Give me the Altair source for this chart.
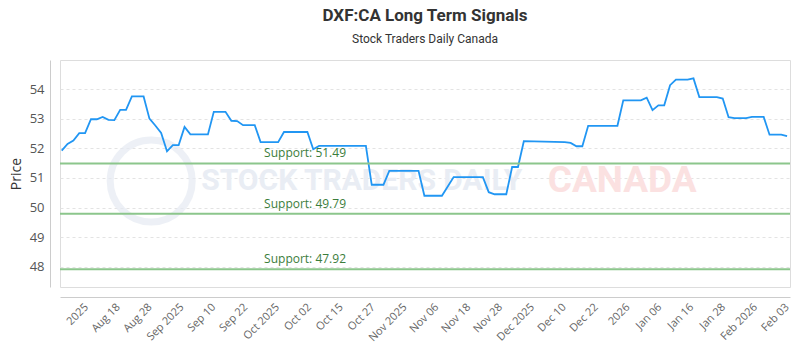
import json
import altair as alt
import pandas as pd

title_text = "DXF:CA Long Term Signals"
subtitle_text = "Stock Traders Daily Canada"

# trading-day index of each turning point of the price line, and its price
day_idx = [0, 1, 2, 3, 4, 5, 6, 7, 8, 9, 10, 11, 12, 14, 15, 16, 17, 18, 19, 20,
           21, 22, 25, 26, 28, 29, 30, 31, 33, 34, 37, 38, 42, 43, 44, 52, 53, 55,
           56, 61, 62, 65, 67, 72, 73, 74, 76, 77, 78, 79, 86, 87, 88, 89, 90, 95,
           96, 99, 100, 101, 102, 103, 104, 105, 107, 108, 109, 112, 113, 114, 115,
           117, 118, 120, 121, 123, 124]
price = [51.92, 52.15, 52.26, 52.51, 52.51, 52.98, 52.98, 53.06, 52.96, 52.95,
         53.30, 53.30, 53.75, 53.75, 53.00, 52.77, 52.52, 51.90, 52.11, 52.11,
         52.72, 52.47, 52.47, 53.23, 53.23, 52.93, 52.92, 52.78, 52.78, 52.21,
         52.21, 52.55, 52.55, 51.97, 52.08, 52.08, 50.77, 50.77, 51.24, 51.24,
         50.40, 50.40, 51.03, 51.03, 50.52, 50.45, 50.45, 51.37, 51.37, 52.24,
         52.21, 52.18, 52.07, 52.07, 52.76, 52.76, 53.62, 53.62, 53.71, 53.29,
         53.45, 53.45, 54.13, 54.32, 54.32, 54.36, 53.73, 53.73, 53.68, 53.05,
         53.02, 53.02, 53.06, 53.06, 52.46, 52.46, 52.41]

support_levels = [51.49, 49.79, 47.92]
support_label_day = 34.6

tick_labels = ["2025", "Aug 18", "Aug 28", "Sep 2025", "Sep 10", "Sep 22",
               "Oct 2025", "Oct 02", "Oct 15", "Oct 27", "Nov 2025", "Nov 06",
               "Nov 18", "Nov 28", "Dec 2025", "Dec 10", "Dec 22", "2026",
               "Jan 06", "Jan 16", "Jan 28", "Feb 2026", "Feb 03"]
y_ticks = [48, 49, 50, 51, 52, 53, 54]

wm_text = ["STOCK TRADERS DAILY", "CANADA"]
wm_day = [51.3, 95.8]
wm_price = [50.9, 50.9]
wm_color = ["#e9edf4", "#fbe1e1"]
wm_size = [30, 37]

# ---------------------------------------------------------------
df = pd.DataFrame({"day": day_idx, "price": price})
sup = pd.DataFrame({
    "level": support_levels,
    "label": [f"Support: {v:.2f}" for v in support_levels],
    "at": [support_label_day] * len(support_levels),
})
wm = pd.DataFrame({"text": wm_text, "day": wm_day, "price": wm_price,
                   "color": wm_color, "size": wm_size})
logo = pd.DataFrame({"day": [15.3], "price": [50.9]})

tick_start, tick_step = 3.47, 5.446
tick_vals = [tick_start + tick_step * k for k in range(len(tick_labels))]
label_expr = f"{json.dumps(tick_labels)}[round((datum.value - {tick_start}) / {tick_step})]"

x_scale = alt.Scale(domain=[-0.29, 124.5], nice=False, zero=False)
y_scale = alt.Scale(domain=[47.32, 54.98], nice=False, zero=False)

x_axis = alt.Axis(values=tick_vals, labelExpr=label_expr, labelAngle=-45,
                  offset=10, ticks=False, grid=False, domainColor="#cccccc",
                  labelFont="Open Sans", labelFontSize=11, labelColor="#666666",
                  labelPadding=4, title=None, labelOverlap=False)
y_axis = alt.Axis(values=y_ticks, offset=10, ticks=False, grid=True,
                  gridDash=[3, 3], gridColor="#e3e3e3", domainColor="#cccccc",
                  labelFont="Open Sans", labelFontSize=13, labelColor="#555555",
                  labelPadding=6, title="Price", titleFont="Open Sans",
                  titleFontSize=14, titleFontWeight="normal", titleColor="#333333",
                  titlePadding=6)

X = lambda f: alt.X(f, scale=x_scale, axis=x_axis)
Y = lambda f: alt.Y(f, scale=y_scale, axis=y_axis)

logo_layer = alt.Chart(logo).mark_point(
    shape="circle", size=6724, filled=False, stroke="#e6ebf3", strokeWidth=7
).encode(x=X("day:Q"), y=Y("price:Q"))

wm_layer = alt.Chart(wm).mark_text(
    font="Roboto", fontWeight="bold", align="center", baseline="middle"
).encode(
    x=X("day:Q"), y=Y("price:Q"),
    text="text:N",
    color=alt.Color("color:N", scale=None),
    size=alt.Size("size:Q", scale=None),
)

line = alt.Chart(df).mark_line(color="#2196f3", strokeWidth=1.8).encode(
    x=X("day:Q"), y=Y("price:Q"),
)

rules = alt.Chart(sup).mark_rule(color="#8cc68c", strokeWidth=2).encode(
    y=Y("level:Q"),
)

rule_text = alt.Chart(sup).mark_text(
    align="left", baseline="bottom", dy=-3, color="#3b7d3b",
    font="Open Sans", fontSize=12
).encode(
    x=X("at:Q"), y=Y("level:Q"),
    text="label:N",
)

chart = alt.layer(logo_layer, wm_layer, line, rules, rule_text).properties(
    width=730,
    height=227,
    autosize=alt.AutoSizeParams(type="none"),
    padding={"left": 60, "top": 60, "right": 10, "bottom": 63},
    title=alt.TitleParams(
        text=title_text, subtitle=subtitle_text, anchor="middle",
        font="Roboto", fontSize=17, fontWeight="bold", color="#333333",
        subtitleFont="Roboto", subtitleFontSize=12, subtitleColor="#333333",
        subtitlePadding=9, offset=14,
    ),
).configure_view(stroke="#666666", strokeWidth=1).configure(background="white")

chart.save("out.html", embed_options={"renderer": "svg", "actions": False})
